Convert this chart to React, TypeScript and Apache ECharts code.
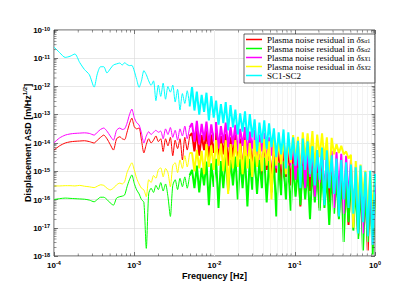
import React, { useEffect, useRef } from 'react';
import * as echarts from 'echarts';

// log10 of frequency [Hz]
const freqExp = [
  -4.00, -3.93, -3.86, -3.80, -3.74, -3.68, -3.62, -3.56, -3.50, -3.46, -3.42, -3.38, -3.34, -3.30, -3.26, -3.22, -3.18, -3.15, -3.12, -3.09, -3.06, -3.03, -3.00, -2.97, -2.94, -2.91,
  -2.88, -2.85, -2.82, -2.79, -2.76, -2.73, -2.70, -2.67, -2.64, -2.61, -2.58, -2.55, -2.52, -2.49, -2.46, -2.43, -2.40, -2.37, -2.34, -2.31,
  -2.28, -2.25, -2.22, -2.19, -2.16, -2.13, -2.10, -2.07, -2.04, -2.01,
  -1.98, -1.95, -1.92, -1.89, -1.86, -1.83, -1.80, -1.77, -1.74, -1.71,
  -1.68, -1.65, -1.62, -1.59, -1.56, -1.53, -1.50, -1.47, -1.44, -1.41,
  -1.38, -1.35, -1.32, -1.29, -1.26, -1.23, -1.20, -1.17, -1.14, -1.11,
  -1.08, -1.05, -1.02, -0.99, -0.96, -0.93, -0.90, -0.87, -0.84, -0.81,
  -0.78, -0.75, -0.72, -0.69, -0.66, -0.63, -0.60, -0.57, -0.54, -0.51,
  -0.48, -0.45, -0.42, -0.39, -0.36, -0.33, -0.30, -0.27, -0.24, -0.21,
  -0.18, -0.15, -0.12, -0.09, -0.06, -0.03, 0.00,
];

// log10 of ASD [m/Hz^1/2]
const alpha1Exp = [
  -14.25, -14.10, -14.00, -13.96, -13.94, -13.93, -13.92, -13.95, -14.00, -13.90, -13.80, -13.72, -13.85, -14.05, -14.25, -13.85, -13.78, -13.85, -13.88, -13.62, -13.32, -13.12, -13.42, -13.50, -13.47, -13.90,
  -14.35, -14.05, -13.85, -14.00, -13.90, -13.75, -13.95, -13.85, -14.30, -13.85, -14.10, -13.80, -14.45, -13.90, -14.20, -13.85, -14.60, -13.80, -14.25, -13.75,
  -13.65, -14.30, -13.55, -14.45, -13.72, -14.25, -13.58, -14.60, -13.70, -14.35,
  -13.62, -14.50, -13.76, -14.40, -13.68, -14.80, -13.80, -14.50, -13.72, -14.65,
  -13.84, -15.10, -13.76, -14.70, -13.88, -14.90, -13.80, -14.80, -13.95, -15.20,
  -13.90, -14.95, -14.04, -15.40, -13.98, -15.05, -14.12, -15.60, -14.05, -15.20,
  -14.20, -15.50, -14.14, -15.30, -14.32, -16.25, -14.26, -15.50, -14.44, -15.70,
  -14.38, -15.60, -14.56, -16.30, -14.50, -15.80, -14.68, -16.10, -14.64, -16.00,
  -14.84, -16.60, -14.80, -16.20, -14.98, -16.90, -14.95, -16.50, -15.16, -17.30,
  -15.14, -16.90, -15.36, -17.80, -15.34, -17.50, -15.50,
];

const alpha2Exp = [
  -16.00, -15.97, -15.95, -15.96, -15.97, -15.98, -15.99, -16.02, -16.08, -16.00, -15.92, -15.92, -16.00, -16.12, -16.20, -15.95, -15.90, -15.88, -15.84, -15.55, -15.30, -15.13, -15.43, -15.66, -15.80, -16.00,
  -16.10, -17.73, -15.80, -15.60, -15.75, -15.50, -15.65, -15.40, -15.70, -15.45, -15.90, -16.60, -15.50, -15.30, -15.65, -15.25, -15.55, -15.20, -15.60, -15.15,
  -14.95, -15.60, -14.80, -15.75, -14.88, -15.50, -14.66, -16.20, -14.72, -15.55,
  -14.56, -16.30, -14.64, -15.60, -14.50, -15.70, -14.60, -15.50, -14.48, -16.00,
  -14.58, -15.60, -14.45, -16.25, -14.56, -15.65, -14.48, -15.80, -14.60, -15.60,
  -14.52, -16.10, -14.64, -15.75, -14.58, -16.60, -14.70, -15.85, -14.66, -16.00,
  -14.80, -16.40, -14.74, -15.90, -14.88, -16.20, -14.82, -16.00, -14.96, -16.70,
  -14.90, -16.10, -15.06, -16.40, -15.00, -16.30, -15.16, -16.90, -15.10, -16.50,
  -15.26, -16.70, -15.20, -17.50, -15.38, -16.80, -15.35, -17.10, -15.54, -17.40,
  -15.50, -17.80, -15.70, -17.50, -15.66, -17.95, -15.80,
];

const x1Exp = [
  -13.99, -13.82, -13.72, -13.68, -13.66, -13.65, -13.64, -13.66, -13.72, -13.62, -13.52, -13.47, -13.58, -13.75, -13.90, -13.55, -13.47, -13.52, -13.50, -13.30, -13.00, -12.80, -13.10, -13.28, -13.36, -13.65,
  -14.00, -13.75, -13.60, -13.70, -13.62, -13.55, -13.62, -13.58, -13.85, -13.50, -13.70, -13.45, -13.80, -13.55, -13.90, -13.50, -13.75, -13.40, -13.85, -13.45,
  -13.30, -13.95, -13.22, -14.05, -13.32, -13.90, -13.24, -14.10, -13.34, -13.95,
  -13.26, -14.20, -13.40, -14.00, -13.28, -14.15, -13.44, -14.05, -13.36, -14.30,
  -13.50, -14.10, -13.44, -14.40, -13.60, -14.20, -13.54, -14.50, -13.70, -14.30,
  -13.64, -14.70, -13.80, -14.45, -13.74, -14.90, -13.90, -14.60, -13.82, -15.10,
  -13.98, -14.80, -13.92, -15.30, -14.06, -15.00, -14.00, -15.60, -14.16, -15.20,
  -14.10, -15.90, -14.26, -15.40, -14.20, -16.00, -14.34, -15.60, -14.28, -16.30,
  -14.32, -15.80, -14.38, -16.50, -14.45, -16.00, -14.60, -16.80, -14.84, -16.40,
  -15.04, -17.20, -15.10, -16.90, -15.32, -17.60, -15.40,
];

const x2Exp = [
  -15.52, -15.52, -15.51, -15.51, -15.52, -15.50, -15.53, -15.55, -15.58, -15.53, -15.48, -15.50, -15.60, -15.66, -15.60, -15.48, -15.42, -15.45, -15.37, -15.05, -14.85, -14.70, -14.95, -15.25, -15.45, -15.60,
  -15.66, -15.90, -15.30, -15.40, -15.15, -15.25, -14.95, -14.88, -15.20, -14.90, -15.05, -15.55, -14.80, -14.70, -15.05, -14.60, -14.90, -14.45, -14.85, -14.35,
  -14.35, -15.00, -14.24, -14.90, -14.28, -15.10, -14.04, -14.85, -14.08, -14.95,
  -13.90, -14.80, -14.02, -15.00, -13.90, -15.80, -14.04, -14.90, -13.90, -14.85,
  -14.02, -15.10, -13.90, -14.90, -14.00, -15.20, -13.90, -14.85, -13.98, -15.00,
  -13.86, -14.80, -13.94, -16.00, -13.82, -14.80, -13.90, -14.75, -13.78, -15.10,
  -13.86, -14.70, -13.72, -14.65, -13.78, -15.20, -13.62, -14.60, -13.66, -14.55,
  -13.58, -14.90, -13.70, -14.50, -13.66, -14.60, -13.80, -15.30, -13.82, -14.40,
  -14.04, -14.35, -14.10, -14.40, -14.30, -14.55, -14.42, -17.00, -14.64, -16.20,
  -14.76, -15.90, -14.98, -16.60, -15.02, -16.40, -15.15,
];

const sc12Exp = [
  -10.60, -10.80, -10.97, -10.93, -10.85, -11.15, -11.40, -11.58, -12.02, -11.55, -11.30, -11.30, -11.52, -11.38, -11.24, -11.20, -11.17, -11.24, -11.16, -11.22, -11.26, -11.25, -11.45, -11.75, -12.03, -11.80,
  -11.44, -11.58, -11.80, -11.96, -11.80, -12.50, -11.95, -12.35, -11.88, -12.45, -12.00, -12.20, -11.95, -12.55, -12.10, -12.83, -12.25, -12.60, -12.15, -12.70,
  -12.02, -12.85, -12.18, -13.00, -12.30, -12.90, -12.22, -13.20, -12.34, -13.10,
  -12.50, -13.35, -12.62, -13.30, -12.55, -13.55, -12.66, -13.45, -12.82, -13.70,
  -12.95, -13.60, -12.88, -13.90, -12.98, -13.80, -13.16, -14.30, -13.28, -14.00,
  -13.20, -14.20, -13.30, -14.15, -13.48, -14.50, -13.62, -14.40, -13.52, -14.90,
  -13.62, -14.60, -13.80, -14.80, -13.92, -15.60, -13.84, -14.95, -13.94, -15.10,
  -14.12, -15.50, -14.25, -15.30, -14.16, -16.20, -14.26, -15.60, -14.44, -15.80,
  -14.55, -16.60, -14.60, -16.00, -14.68, -16.30, -14.76, -16.50, -14.86, -17.20,
  -14.80, -16.80, -15.02, -17.30, -14.98, -17.60, -15.10,
];

const seriesNames = [
  'Plasma noise residual in δsα1',
  'Plasma noise residual in δsα2',
  'Plasma noise residual in δsX1',
  'Plasma noise residual in δsX2',
  'SC1-SC2',
];
const legendRich = [
  '{t|Plasma noise residual in }{i|δs}{si|α}{s|1}',
  '{t|Plasma noise residual in }{i|δs}{si|α}{s|2}',
  '{t|Plasma noise residual in }{i|δs}{si|X}{s|1}',
  '{t|Plasma noise residual in }{i|δs}{si|X}{s|2}',
  '{t|SC1-SC2}',
];
const seriesColors = ['#ff0000', '#00ff00', '#ff00ff', '#ffff00', '#00ffff'];
const seriesValues = [alpha1Exp, alpha2Exp, x1Exp, x2Exp, sc12Exp];

const X_MIN = 1e-4, X_MAX = 1, Y_MIN = 1e-18, Y_MAX = 1e-10;
const DENSE_START = 45; // index where the dense high-frequency part begins
const SANS = '"Liberation Sans", Arial, Helvetica, sans-serif';
const SERIF = '"Liberation Serif", "DejaVu Serif", "Times New Roman", serif';
const AXIS_COLOR = '#262626';

function toPairs(vals: number[]) {
  const n = Math.min(vals.length, freqExp.length);
  const out: number[][] = [];
  for (let i = 0; i < n; i++) out.push([Math.pow(10, freqExp[i]), Math.pow(10, vals[i])]);
  return out;
}

function minorValues(lo: number, hi: number) {
  const out: number[] = [];
  for (let e = lo; e < hi; e++) for (let m = 2; m <= 9; m++) out.push(m * Math.pow(10, e));
  return out;
}

const powLabel = (v: number) => `{b|10}{e|${Math.round(Math.log10(v))}}`;
const powRich = {
  b: { fontSize: 8, fontWeight: 'bold', fontFamily: SANS, color: '#000', lineHeight: 9, verticalAlign: 'bottom' },
  e: { fontSize: 5.5, fontWeight: 'bold', fontFamily: SANS, color: '#000', lineHeight: 6, verticalAlign: 'top' },
};

export default function App() {
  const ref = useRef<HTMLDivElement>(null);
  useEffect(() => {
    if (!ref.current) return;
    const chart = echarts.init(ref.current, undefined, { renderer: 'svg' });
    const minorX = minorValues(-4, 0);
    const minorY = minorValues(-18, -10);

    const baseAxis = {
      type: 'log',
      logBase: 10,
      axisLine: { show: false },
      axisTick: { show: true, inside: true, length: 4, lineStyle: { color: AXIS_COLOR, width: 0.6 } },
      minorTick: { show: false },
    };

    const tickSeries = (data: number[][], size: number[], offset: number[]) => ({
      type: 'scatter',
      silent: true,
      clip: false,
      z: 10,
      symbol: 'rect',
      symbolSize: size,
      symbolOffset: offset,
      itemStyle: { color: AXIS_COLOR },
      data,
    });

    const dataSeries: any[] = [];
    seriesNames.forEach((name, k) => {
      const pairs = toPairs(seriesValues[k]);
      dataSeries.push({
        type: 'line',
        name,
        data: pairs.slice(0, DENSE_START + 1),
        showSymbol: false,
        symbol: 'none',
        smooth: 0.25,
        z: 2 + k,
        color: seriesColors[k],
        lineStyle: { color: seriesColors[k], width: 1 },
        emphasis: { disabled: true },
      });
      dataSeries.push({
        type: 'line',
        name,
        data: pairs.slice(DENSE_START),
        showSymbol: false,
        symbol: 'none',
        smooth: false,
        z: 2 + k,
        color: seriesColors[k],
        lineStyle: { color: seriesColors[k], width: 2, join: 'bevel' },
        emphasis: { disabled: true },
      });
    });

    const option: any = {
      animation: false,
      backgroundColor: '#ffffff',
      grid: { left: 54, right: 40, top: 30, bottom: 45, show: true, borderColor: AXIS_COLOR, borderWidth: 0.8, backgroundColor: '#fff' },
      legend: {
        data: seriesNames,
        orient: 'vertical',
        left: 244,
        top: 34,
        align: 'left',
        icon: 'rect',
        itemWidth: 16,
        itemHeight: 1.5,
        itemGap: 0,
        padding: [1, 4, 3, 2],
        backgroundColor: '#fff',
        borderColor: '#000',
        borderWidth: 0.6,
        borderRadius: 0,
        selectedMode: false,
        z: 20,
        formatter: (name: string) => legendRich[seriesNames.indexOf(name)],
        textStyle: {
          fontFamily: SERIF,
          fontSize: 9,
          color: '#000',
          rich: {
            t: { fontFamily: SERIF, fontSize: 9, lineHeight: 9, color: '#000' },
            i: { fontFamily: SERIF, fontSize: 9, lineHeight: 9, fontStyle: 'italic', color: '#000' },
            si: { fontFamily: SERIF, fontSize: 6, lineHeight: 6, padding: [3, 0, 0, 0], verticalAlign: 'top', fontStyle: 'italic', color: '#000' },
            s: { fontFamily: SERIF, fontSize: 6, lineHeight: 6, padding: [3, 0, 0, 0], verticalAlign: 'top', color: '#000' },
          },
        },
      },
      xAxis: [
        {
          ...baseAxis,
          min: X_MIN,
          max: X_MAX,
          interval: 1,
          splitNumber: 4,
          position: 'bottom',
          name: 'Frequency [Hz]',
          nameLocation: 'middle',
          nameGap: 15,
          nameMoveOverlap: false,
          nameTextStyle: { fontFamily: SANS, fontWeight: 'bold', fontSize: 9, color: '#000' },
          axisLabel: { margin: 4, formatter: powLabel, rich: powRich },
          splitLine: { show: true, lineStyle: { color: '#d9d9d9', width: 0.6 } },
        },
        {
          ...baseAxis,
          min: X_MIN,
          max: X_MAX,
          interval: 1,
          splitNumber: 4,
          position: 'top',
          axisLabel: { show: false },
          splitLine: { show: false },
        },
      ],
      yAxis: [
        {
          ...baseAxis,
          min: Y_MIN,
          max: Y_MAX,
          interval: 1,
          splitNumber: 8,
          position: 'left',
          name: '{n|Displacement ASD [m/Hz}{e|1/2}{n|]}',
          nameLocation: 'middle',
          nameGap: 22,
          nameMoveOverlap: false,
          nameTextStyle: {
            rich: {
              n: { fontFamily: SANS, fontWeight: 'bold', fontSize: 9, color: '#000', lineHeight: 10, verticalAlign: 'bottom' },
              e: { fontFamily: SANS, fontWeight: 'bold', fontSize: 6, color: '#000', lineHeight: 6, verticalAlign: 'top' },
            },
          },
          axisLabel: { margin: 4, formatter: powLabel, rich: powRich },
          splitLine: { show: true, lineStyle: { color: '#d9d9d9', width: 0.6 } },
        },
        {
          ...baseAxis,
          min: Y_MIN,
          max: Y_MAX,
          interval: 1,
          splitNumber: 8,
          position: 'right',
          axisLabel: { show: false },
          splitLine: { show: false },
        },
      ],
      series: [
        {
          type: 'line',
          name: 'minor-grid',
          data: [],
          silent: true,
          z: 1,
          markLine: {
            silent: true,
            symbol: ['none', 'none'],
            label: { show: false },
            animation: false,
            lineStyle: { color: '#ececec', width: 0.6, type: 'solid' },
            data: [...minorX.map((v) => ({ xAxis: v })), ...minorY.map((v) => ({ yAxis: v }))],
          },
        },
        ...dataSeries,
        tickSeries(minorX.map((v) => [v, Y_MIN]), [0.6, 2.5], [0, -1.25]),
        tickSeries(minorX.map((v) => [v, Y_MAX]), [0.6, 2.5], [0, 1.25]),
        tickSeries(minorY.map((v) => [X_MIN, v]), [2.5, 0.6], [1.25, 0]),
        tickSeries(minorY.map((v) => [X_MAX, v]), [2.5, 0.6], [-1.25, 0]),
      ],
    };
    chart.setOption(option);
    return () => chart.dispose();
  }, []);
  return <div ref={ref} style={{ position: 'absolute', left: 0, top: 0, width: 415, height: 301, background: '#fff' }} />;
}
